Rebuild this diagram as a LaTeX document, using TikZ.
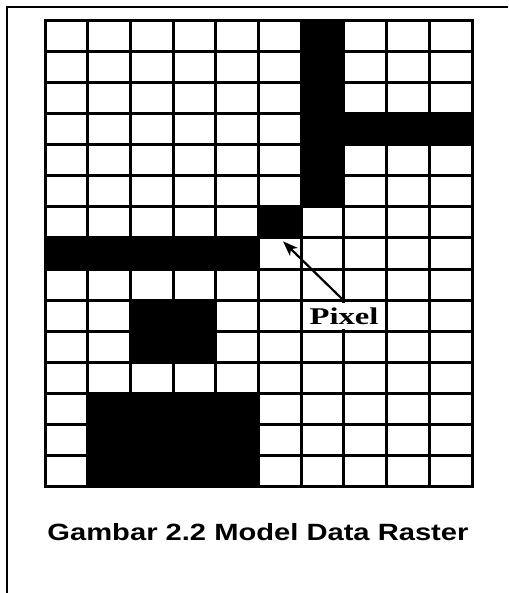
\documentclass[tikz,border=0pt]{standalone}
\usepackage{fontspec}
\setmainfont{Liberation Serif}
\newfontfamily\capfont{Liberation Sans}
\usetikzlibrary{arrows.meta}
\begin{document}
\begin{tikzpicture}[x=1pt,y=-1pt,
  blk/.style={fill=black,draw=none},
  gridline/.style={line width=3pt,line cap=rect},
  frameline/.style={line width=2pt}]
\useasboundingbox (0,0) rectangle (508,593);
\def\cw{42.7}\def\ch{31}
\def\gx{45}\def\gy{21}
% black cells (col, row, ncols, nrows)
\foreach \c/\r/\nc/\nr in {6/0/1/6, 7/3/3/1, 0/7/5/1, 2/9/2/2, 1/12/4/3}{
  \fill[blk] ({\gx+\c*\cw},{\gy+\r*\ch}) rectangle ++({\nc*\cw},{\nr*\ch});
}
\node[blk,minimum width=42.7pt,minimum height=31pt,inner sep=0pt,anchor=north west] (px) at ({\gx+5*\cw},{\gy+6*\ch}) {};
% grid lines
\foreach \i in {0,...,10}{
  \draw[gridline] ({\gx+\i*\cw},\gy) -- ({\gx+\i*\cw},{\gy+15*\ch});
}
\foreach \j in {0,...,15}{
  \draw[gridline] (\gx,{\gy+\j*\ch}) -- ({\gx+10*\cw},{\gy+\j*\ch});
}
% label and arrow
\node[fill=white,inner sep=0pt,minimum width=59pt,minimum height=26pt,
  font=\bfseries\fontsize{24}{28}\selectfont,xscale=1.36] (lbl) at (344,316) {Pixel};
\draw[line width=2.2pt,-{Stealth[length=15pt,width=11pt,inset=4pt]}]
  ([yshift=2pt]lbl.north) -- ([xshift=3pt,yshift=-3pt]px.south);
% frame
\draw[frameline] (7,593) -- (7,7) -- (508,7);
% caption
\node[font=\capfont\bfseries\fontsize{23.5}{28}\selectfont,xscale=1.24] (cap) at (258,532) {Gambar 2.2 Model Data Raster};
\end{tikzpicture}
\end{document}
